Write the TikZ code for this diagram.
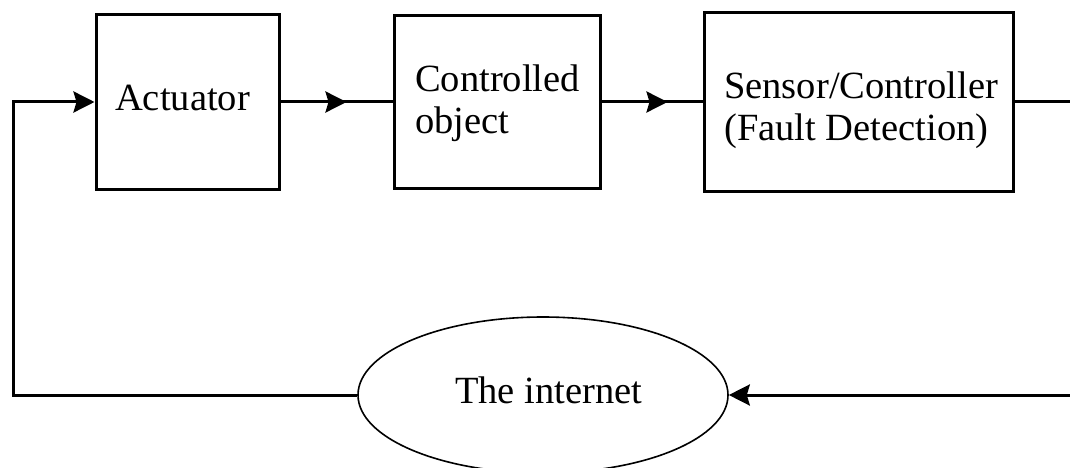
\documentclass[tikz,border=0pt]{standalone}
\usepackage{fontspec}
\setmainfont{Liberation Serif}
\usetikzlibrary{arrows.meta,decorations.markings,shapes.geometric}
\begin{document}
\begin{tikzpicture}[x=1pt,y=-1pt,
  blockbox/.style={draw=black,line width=3pt,rectangle,inner sep=0pt},
  cloudnet/.style={draw=black,line width=1.6pt,ellipse,inner sep=0pt},
  lbl/.style={inner sep=0pt,anchor=base west,align=left,font=\fontsize{38.5}{41.5}\selectfont},
  conn/.style={draw=black,line width=3pt},
  tip/.style={-{Stealth[length=21pt,width=21pt,inset=3pt]}},
  midtip/.style={postaction={decorate},decoration={markings,mark=at position 66pt with {\arrow{Stealth[length=21pt,width=21pt,inset=3pt]}}}}
]
\useasboundingbox (0,0) rectangle (1070,468);
\clip (0,0) rectangle (1070,468);
\node[blockbox,minimum width=183pt,minimum height=174pt] (act) at (187.5,102) {};
\node[blockbox,minimum width=206pt,minimum height=173pt] (obj) at (497,102) {};
\node[blockbox,minimum width=309pt,minimum height=178pt] (sen) at (858.5,102) {};
\node[cloudnet,minimum width=370pt,minimum height=156pt] (net) at (543,395) {};
\node[lbl] (tact) at (115,111) {Actuator};
\node[lbl] (tobj) at (415,133) {Controlled\\object};
\node[lbl] (tsen) at (724,140) {Sensor/Controller\\(Fault Detection)};
\node[lbl] (tnet) at (455,403) {The internet};
\coordinate (cl) at (13,395);
\coordinate (cu) at (13,102);
\coordinate (cr1) at (1076,102);
\coordinate (cr2) at (1076,395);
\draw[conn,midtip] (act.east) -- (obj.west);
\draw[conn,midtip] (obj.east) -- (sen.west);
\draw[conn,tip] (net.west) -- (cl) -- (cu) -- (act.west);
\draw[conn,tip] (sen.east) -- (cr1) -- (cr2) -- (net.east);
\end{tikzpicture}
\end{document}
